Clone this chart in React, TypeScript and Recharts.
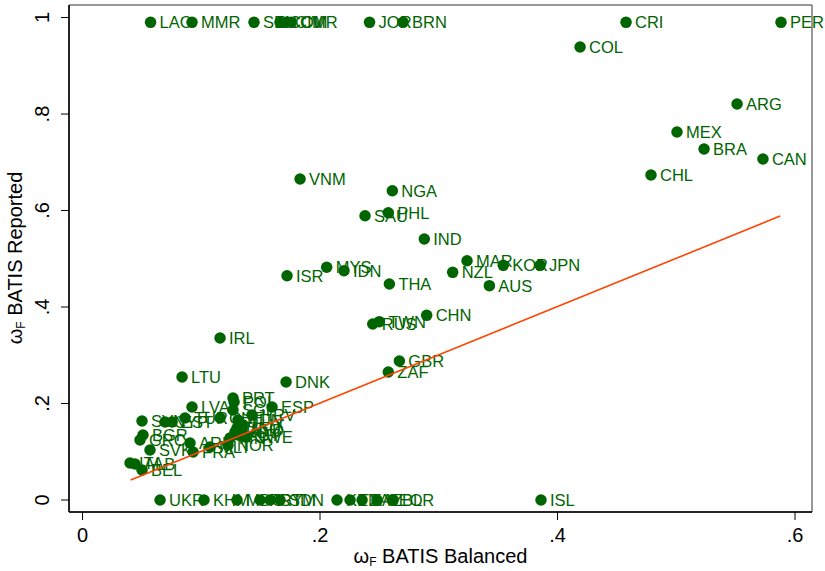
import React from 'react';
import { ScatterChart, Scatter, XAxis, YAxis, ReferenceArea } from 'recharts';

// country codes with omega_F: BATIS balanced (x) vs BATIS reported (y)
const countries = [
  'LAO', 'MMR', 'SEN', 'COM', 'CIV', 'CMR', 'JOR', 'BRN', 'CRI', 'PER',
  'COL', 'ARG', 'MEX', 'BRA', 'CAN', 'CHL', 'VNM', 'NGA', 'SAU', 'PHL',
  'IND', 'MAR', 'KOR', 'JPN', 'NZL', 'AUS', 'ISR', 'MYS', 'IDN', 'THA',
  'RUS', 'TWN', 'CHN', 'GBR', 'ZAF', 'DNK', 'IRL', 'LTU', 'ISL', 'UKR',
  'KHM', 'MDG', 'PRY', 'GTM', 'SDN', 'KEN', 'TZA', 'KAZ', 'GEO', 'BLR',
  'PRT', 'POL', 'ESP', 'LVA', 'SGP', 'HRV', 'SVN', 'CYP', 'EST', 'TUR',
  'CHE', 'HUN', 'LUX', 'DEU', 'ROU', 'NLD', 'AUT', 'FIN', 'SWE', 'BGR',
  'GRC', 'SVK', 'ARE', 'MLT', 'NOR', 'FRA', 'ITA', 'ALB', 'BEL',
];

const balanced = [
  0.0573, 0.0922, 0.1444, 0.1663, 0.1714, 0.1756, 0.2417, 0.2699, 0.4577, 0.5882,
  0.419, 0.5512, 0.5006, 0.5234, 0.573, 0.4787, 0.1832, 0.2609, 0.2379, 0.2575,
  0.2878, 0.3238, 0.3543, 0.3853, 0.3117, 0.3426, 0.1722, 0.2056, 0.2202, 0.2584,
  0.2444, 0.2499, 0.2898, 0.2668, 0.2575, 0.1714, 0.1158, 0.0838, 0.3861, 0.0653,
  0.1023, 0.1301, 0.1495, 0.1579, 0.1663, 0.2143, 0.2253, 0.2354, 0.248, 0.2615,
  0.1267, 0.1276, 0.1596, 0.0922, 0.1267, 0.1427, 0.0501, 0.0695, 0.0754, 0.0863,
  0.1158, 0.1309, 0.1352, 0.1301, 0.1284, 0.1343, 0.1309, 0.1242, 0.1377, 0.0509,
  0.0484, 0.0568, 0.0905, 0.1074, 0.1225, 0.0931, 0.04, 0.0442, 0.0501,
];

const reported = [
  0.99, 0.99, 0.99, 0.99, 0.99, 0.99, 0.99, 0.99, 0.99, 0.99,
  0.939, 0.8207, 0.7627, 0.7275, 0.7067, 0.6736, 0.6653, 0.641, 0.5892, 0.5955,
  0.5409, 0.496, 0.4864, 0.4864, 0.4719, 0.4442, 0.4649, 0.4823, 0.4753, 0.4477,
  0.3648, 0.3696, 0.3827, 0.2881, 0.2653, 0.2446, 0.3358, 0.2549, 0, 0,
  0, 0, 0, 0, 0, 0, 0, 0, 0, 0,
  0.2114, 0.2031, 0.1927, 0.1927, 0.1865, 0.1762, 0.1637, 0.1617, 0.1617, 0.1699,
  0.1699, 0.1658, 0.1554, 0.1492, 0.1409, 0.1451, 0.1347, 0.1285, 0.1306, 0.1347,
  0.1244, 0.1036, 0.1181, 0.1098, 0.114, 0.0995, 0.0767, 0.0746, 0.0622,
];

// fitted line endpoints
const fitX = [0.0405, 0.5875];
const fitY = [0.0415, 0.5885];

const xTicks = [0, 0.2, 0.4, 0.6];
const yTicks = [0, 0.2, 0.4, 0.6, 0.8, 1];

const points = countries.map((code, i) => ({ code, x: balanced[i], y: reported[i] }));
const fitData = fitX.map((x, i) => ({ x, y: fitY[i] }));

const GREEN = '#006400';
const FONT = '"Liberation Sans", Arial, sans-serif';

const fmt = (v: number) => (v === 0 ? '0' : v === 1 ? '1' : String(v).replace(/^0/, ''));

const renderPoint = (props: any) => {
  const { cx, cy, payload } = props;
  return (
    <g>
      <circle cx={cx} cy={cy} r={5.75} fill={GREEN} />
      <text x={cx + 9} y={cy + 6} fontSize={16.5} fill={GREEN} fontFamily={FONT}>
        {payload.code}
      </text>
    </g>
  );
};

const YTick = (props: any) => {
  const { y, payload } = props;
  return (
    <text
      x={42}
      y={y}
      transform={`rotate(-90 42 ${y})`}
      textAnchor="middle"
      dominantBaseline="central"
      fontSize={20}
      fontFamily={FONT}
      fill="#000"
    >
      {fmt(payload.value)}
    </text>
  );
};

const X_MIN = -0.0114;
const X_MAX = 0.6143;
const Y_MIN = -0.0249;
const Y_MAX = 1.026;

export default function App() {
  return (
    <div style={{ position: 'absolute', left: 0, top: 0, width: 825, height: 571, background: '#fff', fontFamily: FONT }}>
      <ScatterChart width={825} height={571} margin={{ top: 5, right: 13, bottom: 0, left: 0 }}>
        <XAxis
          type="number"
          dataKey="x"
          domain={[X_MIN, X_MAX]}
          ticks={xTicks}
          tickFormatter={fmt}
          height={59}
          tickSize={8}
          tickMargin={8}
          stroke="#000"
          axisLine={{ stroke: '#000', strokeWidth: 1.5 }}
          tickLine={{ stroke: '#000' }}
          tick={{ fontSize: 20, fill: '#000', fontFamily: FONT }}
        />
        <YAxis
          type="number"
          dataKey="y"
          domain={[Y_MIN, Y_MAX]}
          ticks={yTicks}
          width={69}
          tickSize={8}
          axisLine={{ stroke: '#000', strokeWidth: 1.5 }}
          tickLine={{ stroke: '#000' }}
          tick={<YTick />}
        />
        <ReferenceArea x1={X_MIN} x2={X_MAX} y1={Y_MIN} y2={Y_MAX} fill="none" stroke="#333" strokeWidth={1} />
        <Scatter data={points} shape={renderPoint} isAnimationActive={false} />
        <Scatter
          data={fitData}
          line={{ stroke: '#ff4500', strokeWidth: 1.6 }}
          shape={() => <g />}
          isAnimationActive={false}
        />
      </ScatterChart>
      <div
        style={{
          position: 'absolute',
          left: 69,
          width: 743,
          top: 546,
          textAlign: 'center',
          fontSize: 20,
          lineHeight: '20px',
          whiteSpace: 'nowrap',
        }}
      >
        ω<span style={{ fontSize: 12, verticalAlign: -3 }}>F</span> BATIS Balanced
      </div>
      <div
        style={{
          position: 'absolute',
          left: 18,
          top: 258,
          transform: 'translate(-50%, -50%) rotate(-90deg)',
          fontSize: 20,
          lineHeight: '20px',
          whiteSpace: 'nowrap',
        }}
      >
        ω<span style={{ fontSize: 12, verticalAlign: -3 }}>F</span> BATIS Reported
      </div>
    </div>
  );
}
